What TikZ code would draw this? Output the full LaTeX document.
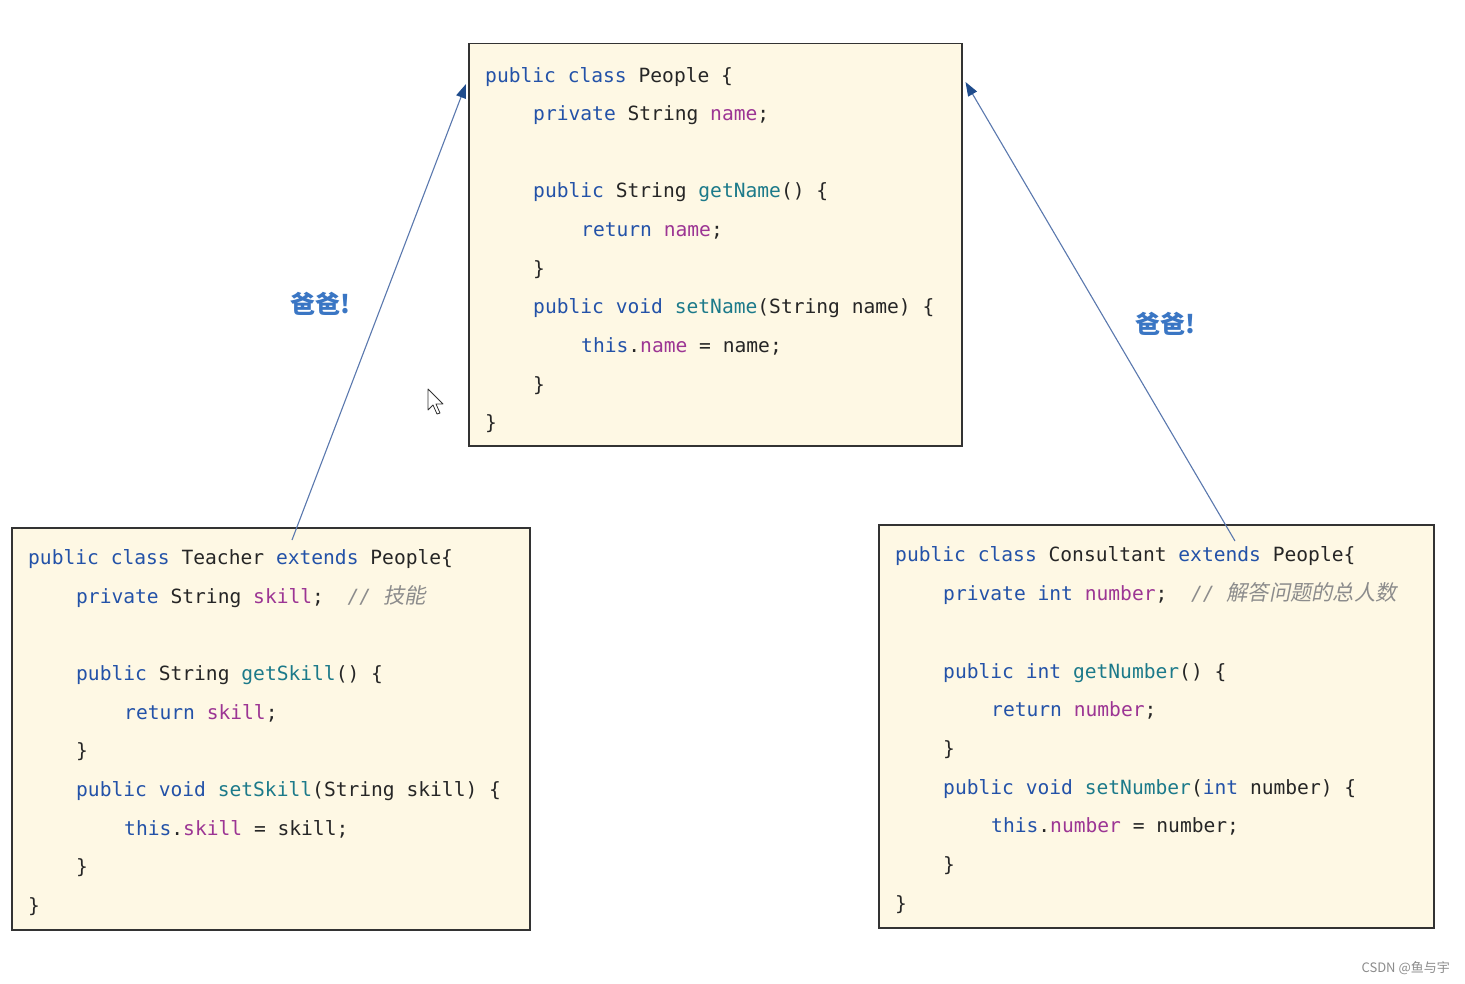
\documentclass[tikz,border=0pt]{standalone}
\usepackage{fontspec}
\usetikzlibrary{arrows.meta,calc}
\newfontfamily\code{DejaVu Sans Mono}
\newfontfamily\cjk{Noto Sans CJK SC}
\newfontfamily\cjksl[FakeSlant=0.2]{Noto Sans CJK SC}
\definecolor{kw}{HTML}{2352A8}
\definecolor{fd}{HTML}{9C3594}
\definecolor{mt}{HTML}{1C7A8A}
\definecolor{tx}{HTML}{262626}
\definecolor{cm}{HTML}{8C8C8C}
\definecolor{boxfill}{HTML}{FEF8E4}
\definecolor{boxline}{HTML}{333333}
\definecolor{arrline}{HTML}{5A78AE}
\definecolor{arrhead}{HTML}{1F4C8C}
\definecolor{lbl}{HTML}{3A76C4}
\newcommand\kw[1]{\textcolor{kw}{#1}}
\newcommand\fd[1]{\textcolor{fd}{#1}}
\newcommand\mt[1]{\textcolor{mt}{#1}}
\newcommand\cmnt[1]{\textcolor{cm}{\itshape #1}}
\newcommand\cjkc[1]{{\cjksl\fontsize{21.3}{24}\selectfont #1}}
\newcommand\cl[4]{\node[codeline] (#1) at (#2,#3) {#4};}
\tikzset{
  classbox/.style={draw=boxline, line width=1.5pt, fill=boxfill, rectangle, inner sep=0pt, anchor=north west},
  codeline/.style={anchor=mid west, inner sep=0pt, yshift=-5pt, text=tx, font=\code\fontsize{19.6}{24}\selectfont},
  inherit/.style={draw=arrline, line width=1.1pt, -{Triangle[length=14pt,width=10pt,color=arrhead]}},
  dadlabel/.style={text=lbl, font=\cjk\bfseries\fontsize{25}{28}\selectfont, inner sep=0pt}
}
\begin{document}
\begin{tikzpicture}[x=1pt,y=-1pt]
\useasboundingbox (0,0) rectangle (1465,984);
\fill[white] (0,0) rectangle (1465,984);
% boxes
\node[classbox, minimum width=493pt, minimum height=402pt] (people) at (468,43) {};
\node[classbox, minimum width=518pt, minimum height=402pt] (teacher) at (11,527) {};
\node[classbox, minimum width=555pt, minimum height=403pt] (consult) at (878,524) {};
% People
\cl{p1}{485}{75}{\kw{public class} People \{}
\cl{p2}{533}{113}{\kw{private} String \fd{name};}
\cl{p3}{533}{190}{\kw{public} String \mt{getName}() \{}
\cl{p4}{581}{229}{\kw{return} \fd{name};}
\cl{p5}{533}{268}{\}}
\cl{p6}{533}{306}{\kw{public void} \mt{setName}(String name) \{}
\cl{p7}{581}{345}{\kw{this}.\fd{name} = name;}
\cl{p8}{533}{384}{\}}
\cl{p9}{485}{422}{\}}
% Teacher
\cl{t1}{28}{557}{\kw{public class} Teacher \kw{extends} People\{}
\cl{t2}{76}{596}{\kw{private} String \fd{skill};\ \ \cmnt{// \cjkc{技能}}}
\cl{t3}{76}{673}{\kw{public} String \mt{getSkill}() \{}
\cl{t4}{124}{712}{\kw{return} \fd{skill};}
\cl{t5}{76}{750}{\}}
\cl{t6}{76}{789}{\kw{public void} \mt{setSkill}(String skill) \{}
\cl{t7}{124}{828}{\kw{this}.\fd{skill} = skill;}
\cl{t8}{76}{866}{\}}
\cl{t9}{28}{905}{\}}
% Consultant
\cl{c1}{895}{554}{\kw{public class} Consultant \kw{extends} People\{}
\cl{c2}{943}{593}{\kw{private int} \fd{number};\ \ \cmnt{// \cjkc{解答问题的总人数}}}
\cl{c3}{943}{671}{\kw{public int} \mt{getNumber}() \{}
\cl{c4}{991}{709}{\kw{return} \fd{number};}
\cl{c5}{943}{748}{\}}
\cl{c6}{943}{787}{\kw{public void} \mt{setNumber}(\kw{int} number) \{}
\cl{c7}{991}{825}{\kw{this}.\fd{number} = number;}
\cl{c8}{943}{864}{\}}
\cl{c9}{895}{903}{\}}
% connectors
\coordinate (tstart) at ($(teacher.north west)+(281,13)$);
\coordinate (tend) at ($(people.north west)+(-2,41)$);
\coordinate (cstart) at ($(consult.north west)+(357,17)$);
\coordinate (cend) at ($(people.north east)+(3,39)$);
\draw[inherit] (tstart) -- (tend);
\draw[inherit] (cstart) -- (cend);
% labels
\node[dadlabel] (lblL) at (320,304) {爸爸!};
\node[dadlabel] (lblR) at (1165,324) {爸爸!};
% cursor
\draw[fill=white, draw=black!80, line width=0.8pt, line join=round]
  (428,389) -- (428,410) -- (433,405) -- (437,414) -- (440,413) -- (436,404) -- (443,404) -- cycle;
% watermark
\node[anchor=east, inner sep=0pt, text=black!45, font=\cjk\fontsize{13}{15}\selectfont] (wm) at (1450,968) {CSDN @鱼与宇};
\end{tikzpicture}
\end{document}
